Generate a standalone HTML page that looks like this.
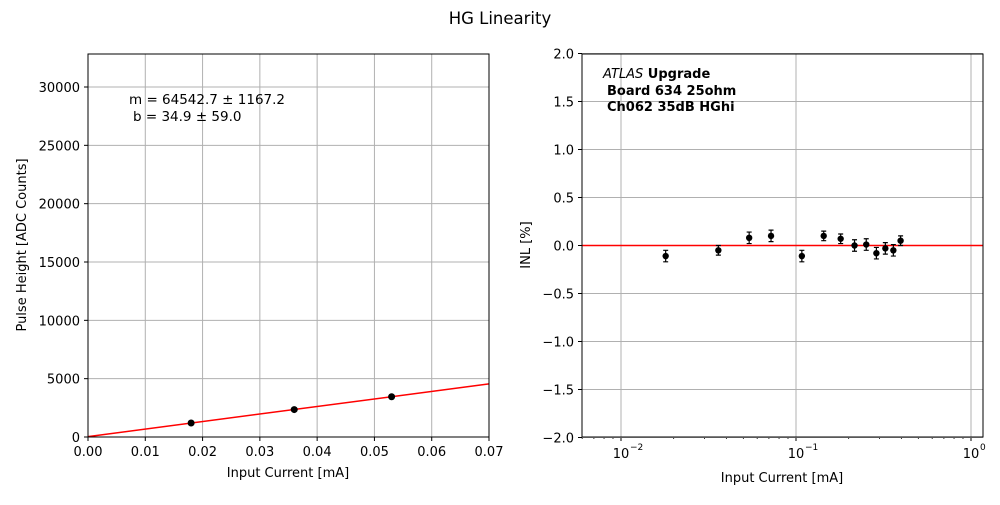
<!DOCTYPE html>
<html><head><meta charset="utf-8"><style>
body{margin:0;background:#fff;font-family:"Liberation Sans","DejaVu Sans",sans-serif}
text{font-family:"DejaVu Sans","Liberation Sans",sans-serif;fill:#000}
</style></head><body>
<svg id="fig" width="1000" height="500" xmlns="http://www.w3.org/2000/svg">
<rect width="1000" height="500" fill="#fff"/>
<text x="500" y="24" font-size="16.5" text-anchor="middle">HG Linearity</text>
<g id="left"></g>
<g id="right"></g>
</svg>
<script>
const linX = [0.018, 0.036, 0.053];
const linY = [1200, 2350, 3450];
const fitM = 64542.7, fitB = 34.9;
const inlX = [0.018,0.036,0.054,0.072,0.108,0.144,0.18,0.216,0.252,0.288,0.324,0.36,0.396];
const inlY = [-0.11,-0.05,0.08,0.10,-0.11,0.10,0.07,0.00,0.01,-0.08,-0.03,-0.05,0.05];
const inlErr = [0.06,0.05,0.06,0.06,0.06,0.05,0.05,0.06,0.06,0.06,0.06,0.06,0.05];
const leftXTicks = [0,0.01,0.02,0.03,0.04,0.05,0.06,0.07];
const leftXLabels = ["0.00","0.01","0.02","0.03","0.04","0.05","0.06","0.07"];
const leftYTicks = [0,5000,10000,15000,20000,25000,30000];
const rightYTicks = [-2,-1.5,-1,-0.5,0,0.5,1,1.5,2];
const rightYLabels = ["\u22122.0","\u22121.5","\u22121.0","\u22120.5","0.0","0.5","1.0","1.5","2.0"];
const NS="http://www.w3.org/2000/svg";
function mk(parent,tag,attrs,txt){const e=document.createElementNS(NS,tag);for(const k in attrs)e.setAttribute(k,attrs[k]);if(txt!==undefined)e.textContent=txt;parent.appendChild(e);return e;}
const T=54,B=437;
const L=document.getElementById('left');
const lx=v=>88+(v/0.07)*401, ly=v=>437-v/30000*350;
leftXTicks.forEach((t,i)=>{const x=lx(t);
 let g=mk(L,'line',{x1:x,x2:x,y1:T,y2:B,stroke:'#b0b0b0','stroke-width':1});
 mk(L,'line',{x1:x,x2:x,y1:B,y2:B+4,stroke:'#000'});
 let e=mk(L,'text',{x:x,y:B+19,'font-size':13,'text-anchor':'middle'},leftXLabels[i]);});
leftYTicks.forEach(t=>{const y=ly(t);
 let g=mk(L,'line',{x1:88,x2:489,y1:y,y2:y,stroke:'#b0b0b0','stroke-width':1});
 mk(L,'line',{x1:84,x2:88,y1:y,y2:y,stroke:'#000'});
 let e=mk(L,'text',{x:80,y:y+5,'font-size':13,'text-anchor':'end'},String(t));});
let fl=mk(L,'line',{x1:lx(0),y1:ly(fitB),x2:lx(0.07),y2:ly(fitM*0.07+fitB),stroke:'red','stroke-width':1.5});

linX.forEach((v,i)=>{let c=mk(L,'circle',{cx:lx(v),cy:ly(linY[i]),r:3.5,fill:'#000'});});
mk(L,'rect',{x:88,y:T,width:401,height:B-T,fill:'none',stroke:'#000','stroke-width':1});
let t1=mk(L,'text',{x:129,y:104,'font-size':13.5},'m = 64542.7 \u00b1 1167.2');
let t2=mk(L,'text',{x:133,y:121,'font-size':13.5},'b = 34.9 \u00b1 59.0');
let xl=mk(L,'text',{x:288,y:477,'font-size':13,'text-anchor':'middle'},'Input Current [mA]');
let yl=mk(L,'text',{x:26,y:245,'font-size':13,'text-anchor':'middle',transform:'rotate(-90 26 245)'},'Pulse Height [ADC Counts]');
const R=document.getElementById('right');
const rx=v=>621+(Math.log10(v)+2)*175, ry=v=>245.5-v*96;
[0.01,0.1,1].forEach((t,i)=>{const x=rx(t);
 let g=mk(R,'line',{x1:x,x2:x,y1:T,y2:B,stroke:'#b0b0b0','stroke-width':1});
 mk(R,'line',{x1:x,x2:x,y1:B,y2:B+4,stroke:'#000'});
 let e=mk(R,'text',{x:x,y:B+21,'font-size':13,'text-anchor':'middle'},'10');
 mk(R,'text',{x:x+9,y:B+13,'font-size':9},['\u22122','\u22121','0'][i]);});
for(let d=-3;d<0;d++)for(let k=2;k<10;k++){const v=k*Math.pow(10,d);const x=rx(v);if(x<582||x>983)continue;mk(R,'line',{x1:x,x2:x,y1:B,y2:B+2,stroke:'#000','stroke-width':0.8});}
rightYTicks.forEach((t,i)=>{const y=ry(t);
 let g=mk(R,'line',{x1:582,x2:983,y1:y,y2:y,stroke:'#b0b0b0','stroke-width':1});
 mk(R,'line',{x1:578,x2:582,y1:y,y2:y,stroke:'#000'});
 let e=mk(R,'text',{x:574,y:y+5,'font-size':13,'text-anchor':'end'},rightYLabels[i]);});
let zl=mk(R,'line',{x1:582,x2:983,y1:ry(0),y2:ry(0),stroke:'red','stroke-width':1.5});
inlX.forEach((v,i)=>{const x=rx(v),y=ry(inlY[i]),e=inlErr[i]*96;
 let eb=mk(R,'path',{d:`M${x},${y-e}V${y+e}M${x-2.5},${y-e}H${x+2.5}M${x-2.5},${y+e}H${x+2.5}`,stroke:'#000','stroke-width':1.2,fill:'none'});
 let c=mk(R,'circle',{cx:x,cy:y,r:3.2,fill:'#000'});});
mk(R,'rect',{x:582,y:T,width:401,height:B-T,fill:'none',stroke:'#000','stroke-width':1});
let a=mk(R,'text',{x:603,y:78,'font-size':13});
mk(a,'tspan',{'font-style':'italic'},'ATLAS');mk(a,'tspan',{'font-weight':'bold'},' Upgrade');
let b1=mk(R,'text',{x:607,y:95,'font-size':13,'font-weight':'bold'},'Board 634 25ohm');
let b2=mk(R,'text',{x:607,y:111,'font-size':13,'font-weight':'bold'},'Ch062 35dB HGhi');
let rxl=mk(R,'text',{x:782,y:482,'font-size':13,'text-anchor':'middle'},'Input Current [mA]');
let ryl=mk(R,'text',{x:530,y:245,'font-size':13,'text-anchor':'middle',transform:'rotate(-90 530 245)'},'INL [%]');
</script>
</body></html>
